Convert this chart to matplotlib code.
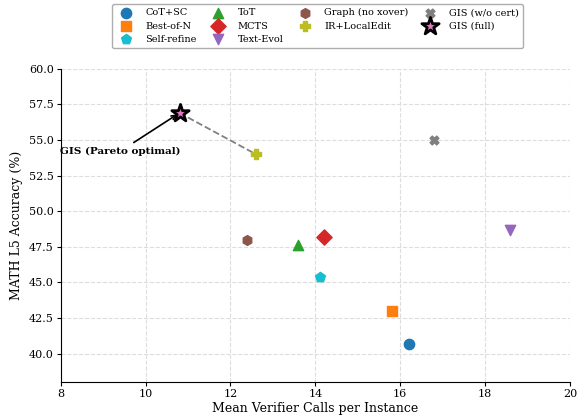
import matplotlib
matplotlib.use("Agg")
import matplotlib.pyplot as plt

methods = ["CoT+SC", "Best-of-N", "Self-refine", "ToT", "MCTS", "Text-Evol",
           "Graph (no xover)", "IR+LocalEdit", "GIS (w/o cert)", "GIS (full)"]
calls = [16.2, 15.8, 14.1, 13.6, 14.2, 18.6, 12.4, 12.6, 16.8, 10.8]
acc = [40.7, 43.0, 45.4, 47.6, 48.2, 48.7, 48.0, 54.0, 55.0, 56.9]
colors = ["#1f77b4", "#ff7f0e", "#17becf", "#2ca02c", "#d62728", "#9467bd",
          "#8c564b", "#bcbd22", "#7f7f7f", "#e377c2"]
markers = ["o", "s", "p", "^", "D", "v", "h", "P", "X", "*"]
sizes = [55, 55, 55, 55, 60, 55, 50, 50, 40, 170]

plt.rcParams["font.family"] = ["DejaVu Serif"]

fig = plt.figure(figsize=(5.78, 4.17), dpi=100)
ax = fig.add_axes([0.105, 0.084, 0.881, 0.751])

for i, m in enumerate(methods):
    if m == "GIS (full)":
        ax.scatter(calls[i], acc[i], s=sizes[i], marker=markers[i], color=colors[i],
                   edgecolors="black", linewidths=2, label=m, zorder=5)
    else:
        ax.scatter(calls[i], acc[i], s=sizes[i], marker=markers[i], color=colors[i],
                   label=m, zorder=4)

# Pareto line
ax.plot([calls[9], calls[7]], [acc[9], acc[7]], "--", color="gray", lw=1.3, zorder=3)

ax.annotate("GIS (Pareto optimal)", xy=(calls[9], acc[9]), xytext=(9.4, 54.2),
            ha="center", va="center", fontsize=7.5, fontweight="bold",
            arrowprops=dict(arrowstyle="->", color="black", lw=1.2))

ax.set_xlim(8, 20)
ax.set_ylim(38, 60)
ax.set_xticks([8, 10, 12, 14, 16, 18, 20])
yt = [40.0, 42.5, 45.0, 47.5, 50.0, 52.5, 55.0, 57.5, 60.0]
ax.set_yticks(yt)
ax.set_yticklabels([f"{v:.1f}" for v in yt])
ax.tick_params(labelsize=8, length=3, pad=2)
ax.set_xlabel("Mean Verifier Calls per Instance", fontsize=9, labelpad=2)
ax.set_ylabel("MATH L5 Accuracy (%)", fontsize=9, labelpad=4)
ax.grid(True, linestyle="--", color="#dddddd", lw=0.8)
ax.set_axisbelow(True)
ax.spines["top"].set_visible(False)
ax.spines["right"].set_visible(False)

ax.legend(loc="lower center", bbox_to_anchor=(0.505, 1.067), ncol=4, fontsize=7,
          frameon=True, edgecolor="#999999", fancybox=True, handletextpad=1.0,
          columnspacing=1.2, borderpad=0.4, labelspacing=0.45, borderaxespad=0)

fig.savefig("out.png", dpi=100)
